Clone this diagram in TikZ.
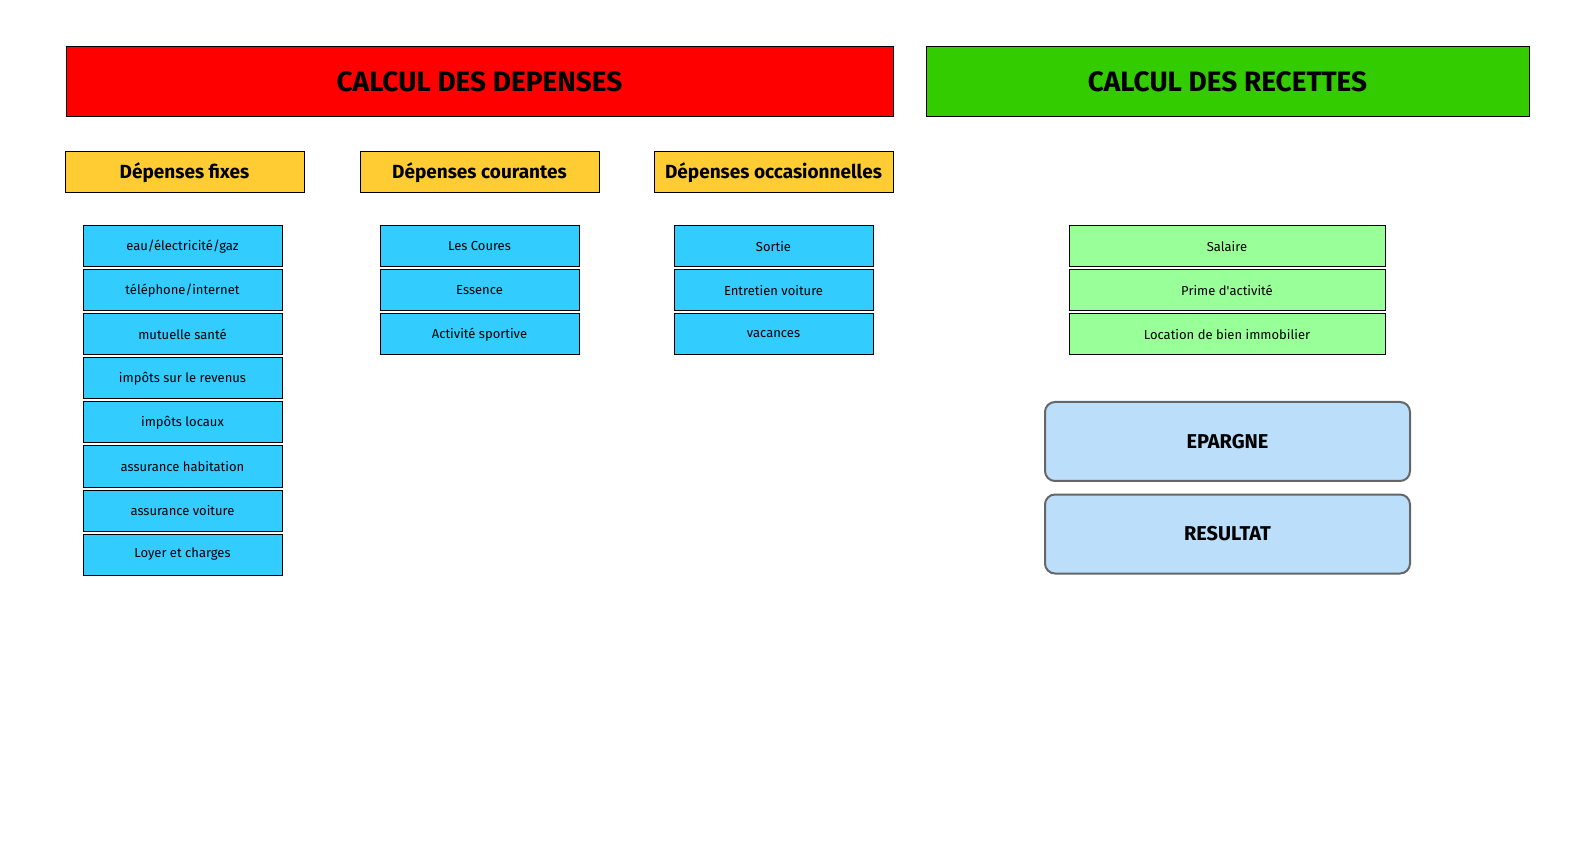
\documentclass[tikz,border=0pt]{standalone}
\usepackage{fontspec}
\setmainfont{Fira Sans}
\usepackage{tikz}

\definecolor{titlered}{HTML}{FF0000}
\definecolor{titlegreen}{HTML}{33CC00}
\definecolor{groupyellow}{HTML}{FFCC33}
\definecolor{itemblue}{HTML}{33CCFF}
\definecolor{incomegreen}{HTML}{99FF99}
\definecolor{totalblue}{HTML}{BBDEFB}

\begin{document}
\begin{tikzpicture}[
            x = 0.5pt, y = 0.5pt, % one unit = one pixel of the page
            font = \fontsize{6.5}{8}\selectfont,
            line width = 0.5pt
        ]

        \tikzstyle{title}=[
            draw = black,
            minimum height = 35pt,
            font = \fontsize{14}{16}\selectfont\bfseries
        ]
        \tikzstyle{group}=[
            draw = black,
            fill = groupyellow,
            minimum width = 119.5pt,
            minimum height = 20.5pt,
            font = \fontsize{9.5}{11}\selectfont\bfseries
        ]
        \tikzstyle{item}=[
            draw = black,
            fill = itemblue,
            minimum width = 99.5pt,
            minimum height = 20.5pt
        ]
        \tikzstyle{income}=[
            item,
            fill = incomegreen,
            minimum width = 158pt
        ]
        \tikzstyle{total}=[
            draw = black!60,
            line width = 1pt,
            rounded corners = 5pt,
            fill = totalblue,
            minimum width = 182.5pt,
            minimum height = 39.5pt,
            font = \fontsize{10}{12}\selectfont\bfseries
        ]

        \useasboundingbox (0,0) rectangle (1579,847);

        \node[title, fill = titlered, minimum width = 413.5pt] (dep) at (479.5,765) {CALCUL DES DEPENSES};
        \node[title, fill = titlegreen, minimum width = 301.5pt] (rec) at (1227.5,765) {CALCUL DES RECETTES};

        \node[group] (g1) at (184.5,674.5) {Dépenses fixes};
        \node[group] (g2) at (479.5,674.5) {Dépenses courantes};
        \node[group] (g3) at (773.5,674.5) {Dépenses occasionnelles};

        \node[item] (f1) at (182.5,600.5) {eau/électricité/gaz};
        \node[item] (f2) at (182.5,556.5) {téléphone/internet};
        \node[item] (f3) at (182.5,512.5) {mutuelle santé};
        \node[item] (f4) at (182.5,468.5) {impôts sur le revenus};
        \node[item] (f5) at (182.5,424.5) {impôts locaux};
        \node[item] (f6) at (182.5,380.5) {assurance habitation};
        \node[item] (f7) at (182.5,336.5) {assurance voiture};
        \node[item] (f8) at (182.5,292.5) {Loyer et charges};

        \node[item] (c1) at (479.5,600.5) {Les Coures};
        \node[item] (c2) at (479.5,556.5) {Essence};
        \node[item] (c3) at (479.5,512.5) {Activité sportive};

        \node[item] (o1) at (773.5,600.5) {Sortie};
        \node[item] (o2) at (773.5,556.5) {Entretien voiture};
        \node[item] (o3) at (773.5,512.5) {vacances};

        \node[income] (r1) at (1227,600.5) {Salaire};
        \node[income] (r2) at (1227,556.5) {Prime d\textquotesingle activité};
        \node[income] (r3) at (1227,512.5) {Location de bien immobilier};

        \node[total] (ep) at (1227.5,405.5) {EPARGNE};
        \node[total] (res) at (1227.5,313) {RESULTAT};
    \end{tikzpicture}
\end{document}
